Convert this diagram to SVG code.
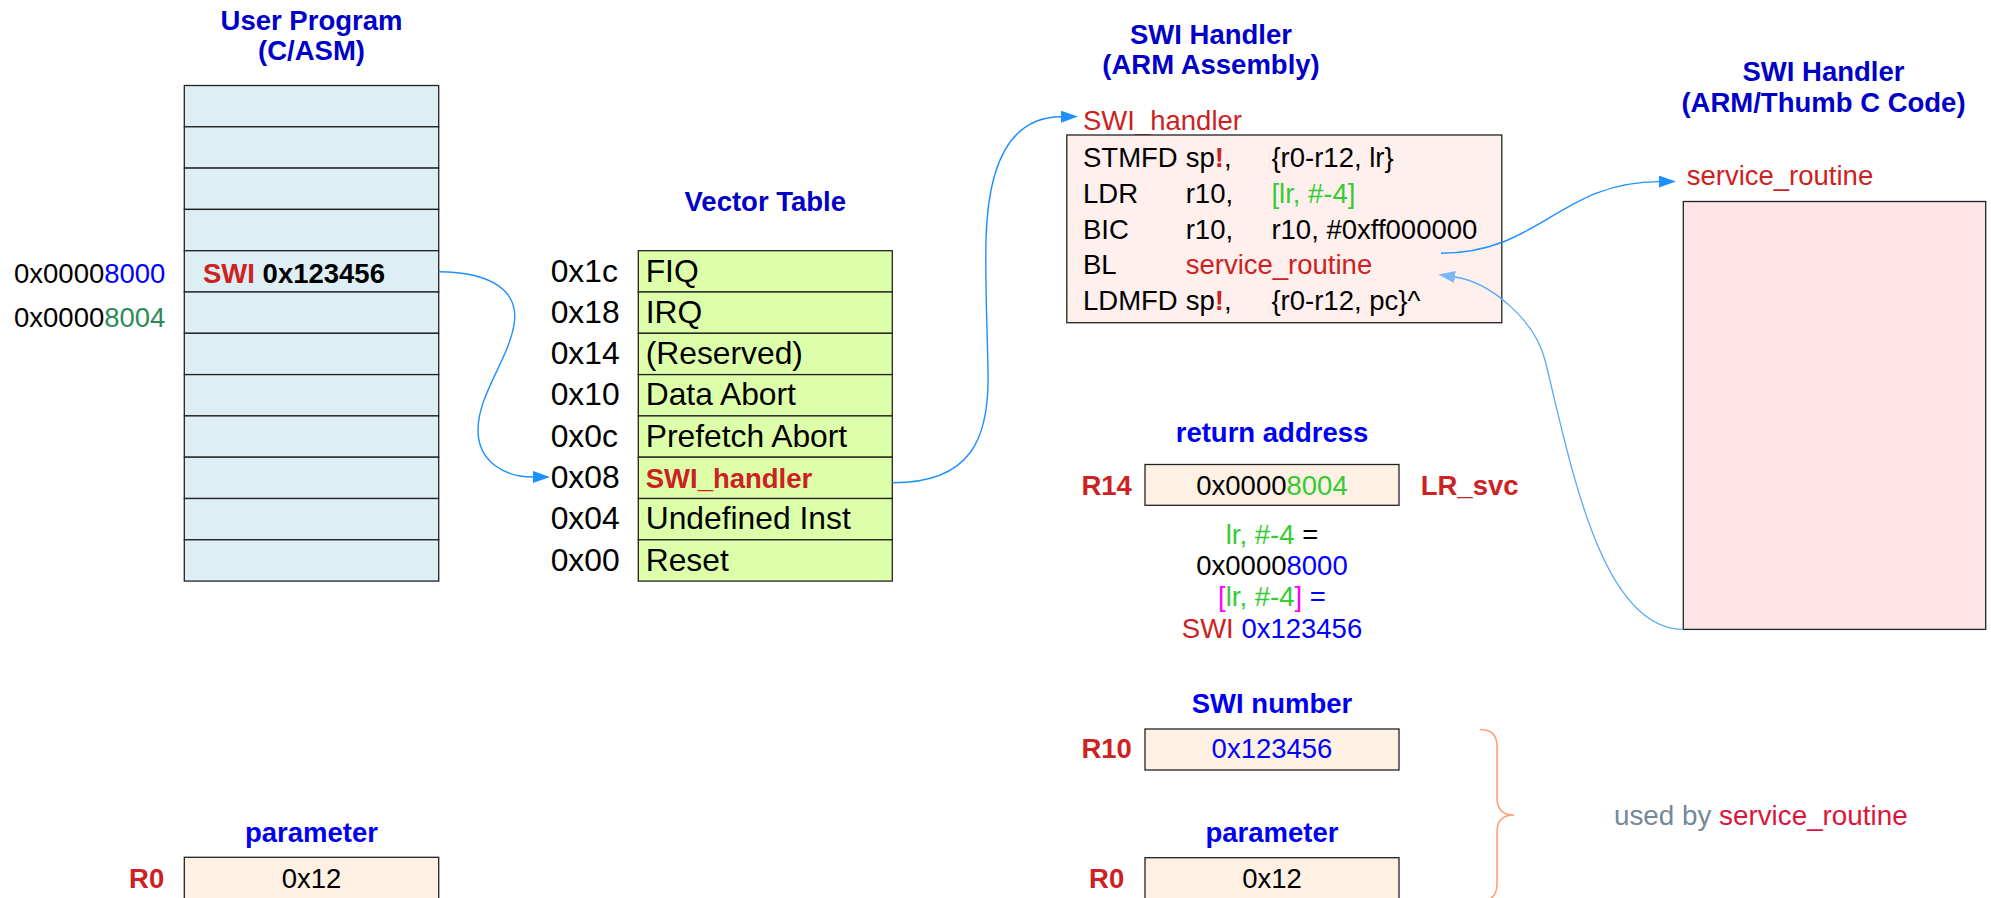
<svg xmlns="http://www.w3.org/2000/svg" width="1991" height="898" viewBox="0 0 1991 898">
  <style>
    text { font-family: "Liberation Sans", Arial, sans-serif; font-size: 27.5px; fill: #000; }
    .title { font-weight: bold; fill: #0000c8; text-anchor: middle; }
    .cap { font-weight: bold; fill: #0000f0; text-anchor: middle; }
    .reg { font-weight: bold; fill: #cc2222; text-anchor: middle; }
    .mid { text-anchor: middle; }
    .vec { font-size: 31.8px; }
    .red { fill: #cc2222; }
    .blue { fill: #0000ff; }
    .sea { fill: #2e8b57; }
    .lime { fill: #33cc33; }
    .mag { fill: #ff00ff; }
    .b { font-weight: bold; }
    .mem { fill: #ddeef4; stroke: #222; stroke-width: 1.3; }
    .vt { fill: #ddffaa; stroke: #222; stroke-width: 1.3; }
    .regbox { fill: #fef0e2; stroke: #222; stroke-width: 1.3; }
    .link { fill: none; stroke: #1e90ff; stroke-width: 1.4; }
    .link2 { fill: none; stroke: #5ba8f5; stroke-width: 1.3; }
  </style>
  <defs>
    <marker id="head" markerUnits="userSpaceOnUse" markerWidth="17" markerHeight="12" refX="0" refY="6" orient="auto">
      <path d="M0,0 L17,6 L0,12 z" fill="#1e90ff"/>
    </marker>
    <marker id="head2" markerUnits="userSpaceOnUse" markerWidth="17" markerHeight="12" refX="0" refY="6" orient="auto">
      <path d="M0,0 L17,6 L0,12 z" fill="#7db6f5"/>
    </marker>
  </defs>

  <rect width="1991" height="898" fill="#fff"/>

  <!-- user program memory -->
  <g id="user-program">
    <text class="title" x="311.5" y="29.5">User Program</text>
    <text class="title" x="311.5" y="60">(C/ASM)</text>
    <rect class="mem" x="184.3" y="85.5" width="254.4" height="41.3"/>
    <rect class="mem" x="184.3" y="126.8" width="254.4" height="41.3"/>
    <rect class="mem" x="184.3" y="168.1" width="254.4" height="41.3"/>
    <rect class="mem" x="184.3" y="209.4" width="254.4" height="41.3"/>
    <rect class="mem" x="184.3" y="250.7" width="254.4" height="41.3"/>
    <rect class="mem" x="184.3" y="292.0" width="254.4" height="41.3"/>
    <rect class="mem" x="184.3" y="333.3" width="254.4" height="41.3"/>
    <rect class="mem" x="184.3" y="374.6" width="254.4" height="41.3"/>
    <rect class="mem" x="184.3" y="415.9" width="254.4" height="41.3"/>
    <rect class="mem" x="184.3" y="457.2" width="254.4" height="41.3"/>
    <rect class="mem" x="184.3" y="498.5" width="254.4" height="41.3"/>
    <rect class="mem" x="184.3" y="539.8" width="254.4" height="41.3"/>
    <text x="203" y="282.5" class="b"><tspan class="red">SWI</tspan> 0x123456</text>
    <text x="14" y="282.5">0x0000<tspan class="blue">8000</tspan></text>
    <text x="14" y="326.5">0x0000<tspan class="sea">8004</tspan></text>
  </g>

  <!-- exception vector table -->
  <g id="vector-table">
    <text class="title" x="765.3" y="210.7">Vector Table</text>
    <rect class="vt" x="638.3" y="250.7" width="254" height="41.3"/>
    <rect class="vt" x="638.3" y="292.0" width="254" height="41.3"/>
    <rect class="vt" x="638.3" y="333.3" width="254" height="41.3"/>
    <rect class="vt" x="638.3" y="374.6" width="254" height="41.3"/>
    <rect class="vt" x="638.3" y="415.9" width="254" height="41.3"/>
    <rect class="vt" x="638.3" y="457.2" width="254" height="41.3"/>
    <rect class="vt" x="638.3" y="498.5" width="254" height="41.3"/>
    <rect class="vt" x="638.3" y="539.8" width="254" height="41.3"/>
    <g>
      <text class="vec" x="550.7" y="281.5">0x1c</text>
      <text class="vec" x="550.7" y="322.8">0x18</text>
      <text class="vec" x="550.7" y="364.1">0x14</text>
      <text class="vec" x="550.7" y="405.4">0x10</text>
      <text class="vec" x="550.7" y="446.7">0x0c</text>
      <text class="vec" x="550.7" y="488.0">0x08</text>
      <text class="vec" x="550.7" y="529.3">0x04</text>
      <text class="vec" x="550.7" y="570.6">0x00</text>
      <text class="vec" x="645.7" y="281.5">FIQ</text>
      <text class="vec" x="645.7" y="322.8">IRQ</text>
      <text class="vec" x="645.7" y="364.1">(Reserved)</text>
      <text class="vec" x="645.7" y="405.4">Data Abort</text>
      <text class="vec" x="645.7" y="446.7">Prefetch Abort</text>
      <text class="b red" x="645.7" y="487.5">SWI_handler</text>
      <text class="vec" x="645.7" y="529.3">Undefined Inst</text>
      <text class="vec" x="645.7" y="570.6">Reset</text>
    </g>
  </g>

  <!-- SWI handler in assembly -->
  <g id="swi-handler">
    <text class="title" x="1211" y="44.3">SWI Handler</text>
    <text class="title" x="1211" y="74">(ARM Assembly)</text>
    <text class="red" x="1083" y="130">SWI_handler</text>
    <rect x="1066.8" y="135" width="435" height="187.7" fill="#fff0ee" stroke="#222" stroke-width="1.3"/>
    <text x="1083" y="166.7">STMFD</text>
    <text x="1185.7" y="166.7">sp<tspan class="b red">!</tspan>,</text>
    <text x="1271.4" y="166.7">{r0-r12, lr}</text>
    <text x="1083" y="202.7">LDR</text>
    <text x="1185.7" y="202.7">r10,</text>
    <text x="1271.4" y="202.7" class="lime">[lr, #-4]</text>
    <text x="1083" y="238.7">BIC</text>
    <text x="1185.7" y="238.7">r10,</text>
    <text x="1271.4" y="238.7">r10, #0xff000000</text>
    <text x="1083" y="274">BL</text>
    <text x="1185.7" y="274" class="red">service_routine</text>
    <text x="1083" y="309.5">LDMFD</text>
    <text x="1185.7" y="309.5">sp<tspan class="b red">!</tspan>,</text>
    <text x="1271.4" y="309.5">{r0-r12, pc}^</text>
  </g>

  <!-- C service routine -->
  <g id="service-routine">
    <text class="title" x="1823.5" y="81.3">SWI Handler</text>
    <text class="title" x="1823.5" y="111.7">(ARM/Thumb C Code)</text>
    <text class="red" x="1686.7" y="184.5">service_routine</text>
    <rect x="1683.3" y="201.5" width="302.4" height="427.9" fill="#ffe4e8" stroke="#222" stroke-width="1.3"/>
  </g>

  <!-- link register -->
  <g id="reg-r14">
    <text class="cap" x="1272" y="441.7">return address</text>
    <text class="reg" x="1106.7" y="495">R14</text>
    <rect class="regbox" x="1145" y="464.5" width="254" height="40.8"/>
    <text class="mid" x="1272" y="495">0x0000<tspan class="lime">8004</tspan></text>
    <text class="b red" x="1420.7" y="495">LR_svc</text>
    <text class="mid" x="1272" y="543.7"><tspan class="lime">lr, #-4</tspan> =</text>
    <text class="mid" x="1272" y="575">0x0000<tspan class="blue">8000</tspan></text>
    <text class="mid" x="1272" y="606.3"><tspan class="mag">[</tspan><tspan class="lime">lr, #-4</tspan><tspan class="mag">]</tspan><tspan class="blue"> =</tspan></text>
    <text class="mid" x="1272" y="637.6"><tspan class="red">SWI</tspan><tspan class="blue"> 0x123456</tspan></text>
  </g>

  <!-- SWI number register -->
  <g id="reg-r10">
    <text class="cap" x="1272" y="713.3">SWI number</text>
    <text class="reg" x="1106.7" y="758.3">R10</text>
    <rect class="regbox" x="1145" y="729" width="254" height="41"/>
    <text class="mid blue" x="1272" y="758.3">0x123456</text>
  </g>

  <!-- parameter register (service side) -->
  <g id="reg-r0-service">
    <text class="cap" x="1272" y="841.7">parameter</text>
    <text class="reg" x="1106.7" y="887.7">R0</text>
    <rect class="regbox" x="1145" y="857.7" width="254" height="42"/>
    <text class="mid" x="1272" y="887.7">0x12</text>
  </g>

  <!-- parameter register (caller side) -->
  <g id="reg-r0-caller">
    <text class="cap" x="311.5" y="841.7">parameter</text>
    <text class="reg" x="146.6" y="888">R0</text>
    <rect class="regbox" x="184.3" y="857.3" width="254.4" height="42"/>
    <text class="mid" x="311.5" y="888">0x12</text>
  </g>

  <!-- brace note -->
  <g id="note">
    <path d="M1480,729.5 Q1497,729.5 1497,746 L1497,798 Q1497,815 1514,815 Q1497,815 1497,832 L1497,884 Q1497,901 1480,901" fill="none" stroke="#ffa07a" stroke-width="1.6"/>
    <text x="1614" y="825" style="font-size:27.8px"><tspan fill="#778899">used by </tspan><tspan fill="#dc143c">service_routine</tspan></text>
  </g>

  <!-- connectors -->
  <g id="connectors">
    <path class="link" marker-end="url(#head)" d="M438.7,271.7 C490,272 520,290 514,325 C508,360 478,395 478,430 C478,462 505,477 533,477"/>
    <path class="link" marker-end="url(#head)" d="M892.3,482.7 C970,483 990,440 988,370 C987,320 985,280 986,240 C988,160 1012,117 1061,116.7"/>
    <path class="link" marker-end="url(#head)" d="M1441,253.3 C1540,253 1560,182 1659,181.6"/>
    <path class="link2" marker-end="url(#head2)" d="M1683.3,629.4 C1600,629 1570,460 1545,360 C1535,320 1490,282 1455,277"/>
  </g>
</svg>
